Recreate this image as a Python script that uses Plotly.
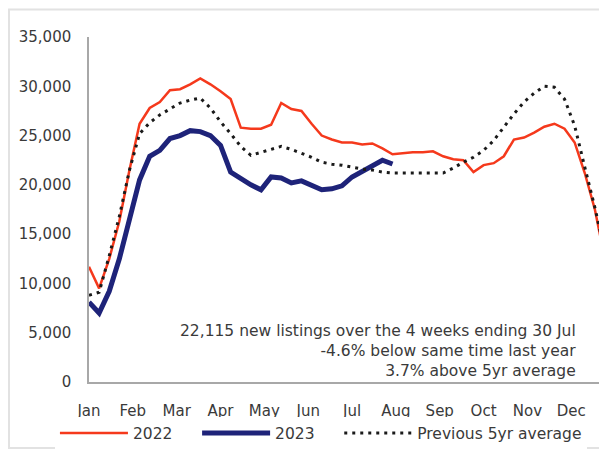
import plotly.graph_objects as go

# weekly new listings, week 1..52
weeks = list(range(52))
months = ['Jan', 'Feb', 'Mar', 'Apr', 'May', 'Jun',
          'Jul', 'Aug', 'Sep', 'Oct', 'Nov', 'Dec']

listings_2022 = [11700, 9500, 12500, 16300, 21500, 26200, 27800, 28400, 29600, 29700,
                 30200, 30800, 30200, 29500, 28700, 25800, 25700, 25700, 26100, 28300,
                 27700, 27500, 26200, 25000, 24600, 24300, 24300, 24100, 24200, 23700,
                 23100, 23200, 23300, 23300, 23400, 22900, 22600, 22500, 21300, 22000,
                 22200, 22900, 24600, 24800, 25300, 25900, 26200, 25700, 24300, 21200,
                 17500, 12400]

listings_2023 = [8100, 7000, 9200, 12500, 16500, 20500, 22900, 23500, 24700, 25000,
                 25500, 25400, 25000, 24000, 21300, 20600, 20000, 19500, 20800, 20700,
                 20200, 20400, 19900, 19500, 19600, 19900, 20800, 21400, 21900, 22500,
                 22115]

avg_5yr = [8800, 9100, 12800, 16800, 21500, 25200, 26300, 27100, 27700, 28300,
           28600, 28800, 27800, 26400, 25200, 23900, 23000, 23300, 23600, 23900,
           23600, 23200, 22800, 22300, 22100, 22000, 21800, 21600, 21500, 21300,
           21200, 21200, 21200, 21200, 21200, 21200, 21700, 22300, 22800, 23500,
           24500, 25900, 27200, 28400, 29300, 30000, 29900, 28700, 26000, 21800,
           17700, 13100]

note_lines = ['22,115 new listings over the 4 weeks ending 30 Jul',
              '-4.6% below same time last year',
              '3.7% above 5yr average']

font = 'DejaVu Sans'
txt = '#3a3a3a'
pad = '\u00a0' * 4  # widen the short legend entries

fig = go.Figure()
fig.add_trace(go.Scatter(x=weeks, y=listings_2022, mode='lines', name='2022' + pad,
                         line=dict(color='#f5391c', width=2.5)))
fig.add_trace(go.Scatter(x=weeks[:len(listings_2023)], y=listings_2023, mode='lines',
                         name='2023' + pad, line=dict(color='#1e2379', width=5)))
fig.add_trace(go.Scatter(x=weeks, y=avg_5yr, mode='lines', name='Previous 5yr average',
                         line=dict(color='#1a1a1a', width=3, dash='3px,5px')))

fig.add_annotation(text='<br>'.join(note_lines), xref='paper', yref='paper',
                   x=0.948, y=0.0, xanchor='right', yanchor='bottom', align='right',
                   showarrow=False, font=dict(family=font, size=15.5, color=txt))

# light frame round the whole picture (page body adds 8px, so figure is 599x443)
fig.add_shape(type='rect', xref='paper', yref='paper', x0=-0.155, x1=1.2,
              y0=-0.191, y1=1.08, line=dict(color='#e2e2e2', width=2), layer='below')

fig.update_layout(
    width=599, height=443,
    margin=dict(l=81, r=2, t=29, b=69, autoexpand=False),
    plot_bgcolor='white', paper_bgcolor='white',
    font=dict(family=font, size=15, color=txt),
    showlegend=True,
    legend=dict(orientation='h', x=-0.066, xanchor='left', y=-0.1, yanchor='top',
                itemwidth=68, font=dict(family=font, size=15.5, color=txt)),
)
fig.update_xaxes(range=[0, 51], tickvals=[m * 52 / 12 for m in range(12)], ticktext=months,
                 showgrid=False, zeroline=False, showline=True, linecolor='#a8a8a8',
                 linewidth=1.5, ticks='', ticklabelstandoff=14)
fig.update_yaxes(range=[0, 35000], dtick=5000, tickformat=',', showgrid=False,
                 zeroline=False, showline=True, linecolor='#a8a8a8', linewidth=1.5,
                 ticks='', ticklabelstandoff=13)

fig.write_html('out.html')
